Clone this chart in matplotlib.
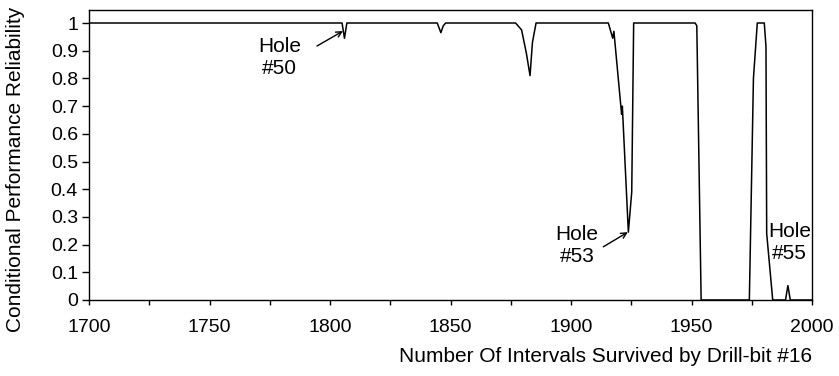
import matplotlib
matplotlib.use('Agg')
from matplotlib import pyplot as plt
import numpy as np

plt.rcParams['font.family'] = ['Liberation Sans', 'DejaVu Sans']

# curve
intervals = [1700, 1805, 1806, 1807, 1844.5, 1846, 1847, 1848,
             1877, 1879.5, 1881.5, 1883, 1884, 1885.5,
             1915.5, 1917.3, 1917.8, 1921, 1921.3, 1923.8, 1925.2, 1926,
             1951.5, 1952.2, 1954, 1974, 1975.7, 1977.3, 1980.2, 1980.9,
             1981.2, 1983.7, 1989, 1990, 1991, 2000]
reliability = [1, 1, 0.945, 1, 1, 0.965, 0.99, 1,
               1, 0.975, 0.89, 0.81, 0.93, 1,
               1, 0.945, 0.97, 0.67, 0.70, 0.245, 0.39, 1,
               1, 0.99, 0, 0, 0.8, 1, 1, 0.915,
               0.24, 0, 0, 0.052, 0, 0]

x_ticks = np.arange(1700, 2001, 25)
x_labels = [str(v) if v % 50 == 0 else '' for v in x_ticks]
y_ticks = np.round(np.arange(0, 1.01, 0.1), 1)
y_labels = ['0'] + ['%.1f' % v for v in y_ticks[1:-1]] + ['1']

fig = plt.figure(figsize=(8.39, 3.76), dpi=100)
ax = fig.add_axes([89 / 839, 76 / 376, (812 - 89) / 839, (300 - 10) / 376])
ax.plot(intervals, reliability, color='black', lw=1.1)

ax.set_xlim(1700, 2000)
ax.set_ylim(0, 1 + 13 / 277)
ax.set_xticks(x_ticks)
ax.set_xticklabels(x_labels)
ax.set_yticks(y_ticks)
ax.set_yticklabels(y_labels)
ax.tick_params(axis='y', direction='out', length=5, width=1, labelsize=14, pad=3)
ax.tick_params(axis='x', direction='out', length=3.5, width=1, labelsize=14, pad=10)
for s in ax.spines.values():
    s.set_linewidth(1)

ax.set_ylabel('Conditional Performance Reliability', fontsize=15)
ax.yaxis.set_label_coords(-64 / 723, 0.45)
fig.text(812 / 839, 1 - 357 / 376, 'Number Of Intervals Survived by Drill-bit #16',
         ha='right', va='center', fontsize=15)

arrow = dict(arrowstyle='->', color='black', lw=1, shrinkA=0, shrinkB=0)
ax.text(1779, 0.877, 'Hole\n#50', ha='center', va='center', fontsize=15)
ax.annotate('', xy=(1805.4, 0.971), xytext=(1794.6, 0.917), arrowprops=arrow)
ax.text(1902.5, 0.195, 'Hole\n#53', ha='center', va='center', fontsize=15)
ax.annotate('', xy=(1923.6, 0.245), xytext=(1913.4, 0.192), arrowprops=arrow)
ax.text(1990.7, 0.206, 'Hole\n#55', ha='center', va='center', fontsize=15)

fig.savefig('out.png', dpi=100)
